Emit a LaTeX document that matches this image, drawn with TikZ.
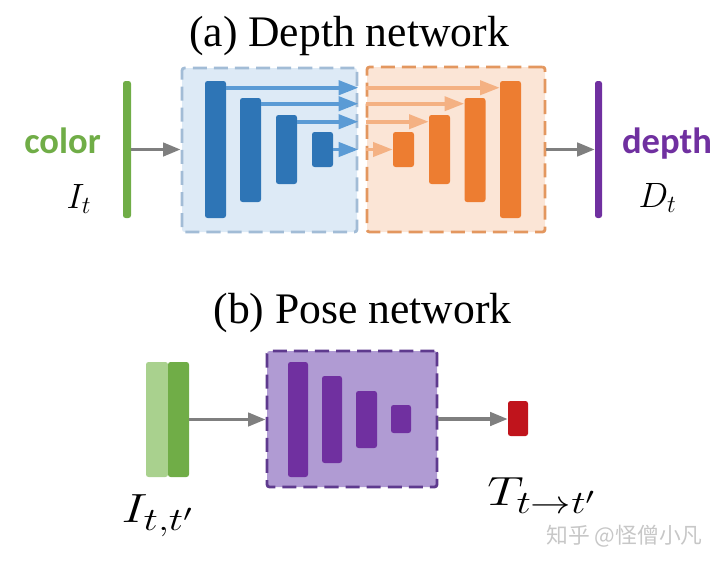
\RequirePackage{fix-cm}
\documentclass[tikz,border=0pt]{standalone}
\usepackage{graphicx}
\usepackage{fontspec}
\setmainfont{Liberation Serif}
\newfontfamily\calibri{Carlito}
\newfontfamily\cjk{Noto Sans CJK SC}
\DeclareMathSizes{29}{29}{23}{17}
\usetikzlibrary{arrows.meta,calc,positioning}
\definecolor{dboxfill}{HTML}{DDEAF6}
\definecolor{dboxline}{HTML}{A2BCD6}
\definecolor{dbarcol}{HTML}{2E75B6}
\definecolor{dskipcol}{HTML}{5B9BD5}
\definecolor{oboxfill}{HTML}{FBE5D6}
\definecolor{oboxline}{HTML}{E3975F}
\definecolor{obarcol}{HTML}{ED7D31}
\definecolor{oskipcol}{HTML}{F4B183}
\definecolor{pboxfill}{HTML}{B09BD3}
\definecolor{pboxline}{HTML}{5E3A8E}
\definecolor{pbarcol}{HTML}{7030A0}
\definecolor{greencol}{HTML}{70AD47}
\definecolor{lgreencol}{HTML}{A9D18E}
\definecolor{redcol}{HTML}{C0141C}
\definecolor{arrowcol}{HTML}{7F7F7F}
\tikzset{%
	bar/.style 2 args = {rectangle, inner sep=0pt, rounded corners=1.8pt, minimum width=#1*0.025cm, minimum height=#2*0.025cm},
	netbox/.style 2 args = {draw=#1, fill=#2, dash pattern=on 10pt off 5pt, line width=2pt, rounded corners=9pt},
	arrow/.style    = {line width=2.4pt, draw=arrowcol, -{Triangle[length=12.5pt,width=9.5pt]}},
	skip/.style     = {line width=2.6pt, draw=#1, -{Triangle[length=14pt,width=10pt]}},
	title/.style    = {anchor=base, inner sep=0pt, font=\fontsize{31}{36}\selectfont},
	word/.style     = {anchor=base, inner sep=0pt, font=\calibri\bfseries\fontsize{26}{30}\selectfont},
	sym/.style      = {anchor=base, inner sep=0pt, font=\fontsize{25}{30}\selectfont},
	bigsym/.style   = {anchor=base, inner sep=0pt, font=\fontsize{29}{34}\selectfont},
}

\begin{document}
\begin{tikzpicture}[x=0.025cm,y=-0.025cm]
	\useasboundingbox (0,0) rectangle (720,565);
	% (a) depth network
	\node[title] (ta) at (349,47) {(a) Depth network};
	\node[netbox={dboxline}{dboxfill}, bar={175}{164}] (dbox) at (269.5,150) {};
	\node[netbox={oboxline}{oboxfill}, bar={178}{165}] (obox) at (456,149.5) {};
	\node[bar={21}{137}, fill=dbarcol] (b1) at (215.5,149.5) {};
	\node[bar={21}{104}, fill=dbarcol] (b2) at (250.5,150) {};
	\node[bar={21}{69},  fill=dbarcol] (b3) at (286.5,149.5) {};
	\node[bar={21}{35},  fill=dbarcol] (b4) at (322.5,149.5) {};
	\node[bar={21}{35},  fill=obarcol] (o1) at (403.5,149.5) {};
	\node[bar={21}{69},  fill=obarcol] (o2) at (439.5,149.5) {};
	\node[bar={21}{104}, fill=obarcol] (o3) at (475,150) {};
	\node[bar={21}{137}, fill=obarcol] (o4) at (510.5,149.5) {};
	\node[bar={8}{137}, fill=greencol] (cbar) at (127,149.5) {};
	\node[bar={7}{137}, fill=pbarcol] (dbar) at (598.5,149.5) {};
	\node[word, text=greencol] (cword) at (62.5,153) {color};
	\node[sym] (it) at (79,208) {$I_t$};
	\node[word, text=pbarcol] (dword) at (667,153) {depth};
	\node[sym] (dt) at (657.5,207) {$D_t$};
	% skip connections
	\coordinate (s1) at ($(b1.north east)+(0,7)$);
	\coordinate (s2) at ($(b2.north east)+(0,6)$);
	\coordinate (s3) at ($(b3.north east)+(0,7)$);
	\draw[skip=dskipcol] (s1) -- (s1 -| dbox.east);
	\draw[skip=dskipcol] (s2) -- (s2 -| dbox.east);
	\draw[skip=dskipcol] (s3) -- (s3 -| dbox.east);
	\draw[skip=dskipcol] (b4.east) -- (b4.east -| dbox.east);
	\draw[skip=oskipcol] (s1 -| obox.west) -- (s1 -| o4.west);
	\draw[skip=oskipcol] (s2 -| obox.west) -- (s2 -| o3.west);
	\draw[skip=oskipcol] (s3 -| obox.west) -- (s3 -| o2.west);
	\draw[skip=oskipcol] (b4.east -| obox.west) -- (o1.west);
	\draw[arrow] (cbar.east) -- (cbar.east -| dbox.west);
	\draw[arrow] (obox.east) -- (obox.east -| dbar.west);

	% (b) pose network
	\node[title] (tb) at (362.5,323) {(b) Pose network};
	\node[netbox={pboxline}{pboxfill}, bar={170}{136}] (pbox) at (352,419) {};
	\node[bar={22}{115}, fill=lgreencol] (g1) at (157,419.5) {};
	\node[bar={21}{115}, fill=greencol] (g2) at (178.5,419.5) {};
	\node[bar={20}{115}, fill=pbarcol] (p1) at (298,419.5) {};
	\node[bar={20}{87},  fill=pbarcol] (p2) at (332,419.5) {};
	\node[bar={21}{57},  fill=pbarcol] (p3) at (366.5,419.5) {};
	\node[bar={20}{28},  fill=pbarcol] (p4) at (401,419) {};
	\node[bar={20}{35},  fill=redcol] (tout) at (518,418.5) {};
	\draw[arrow] (g2.east) -- (g2.east -| pbox.west);
	\draw[arrow] (pbox.east) -- (pbox.east -| tout.west);
	\node[bigsym] (itt) at (157.5,522) {\scalebox{1.25}[1]{$I_{t,t'}$}};
	\node[bigsym] (ttt) at (541.5,505) {\scalebox{1.25}[1]{$T_{t\to t'}$}};
	\node[text=black!22, font=\cjk\fontsize{15.5}{18}\selectfont, inner sep=0pt] (mark) at (624.5,536) {知乎 @怪僧小凡};
\end{tikzpicture}
\end{document}
